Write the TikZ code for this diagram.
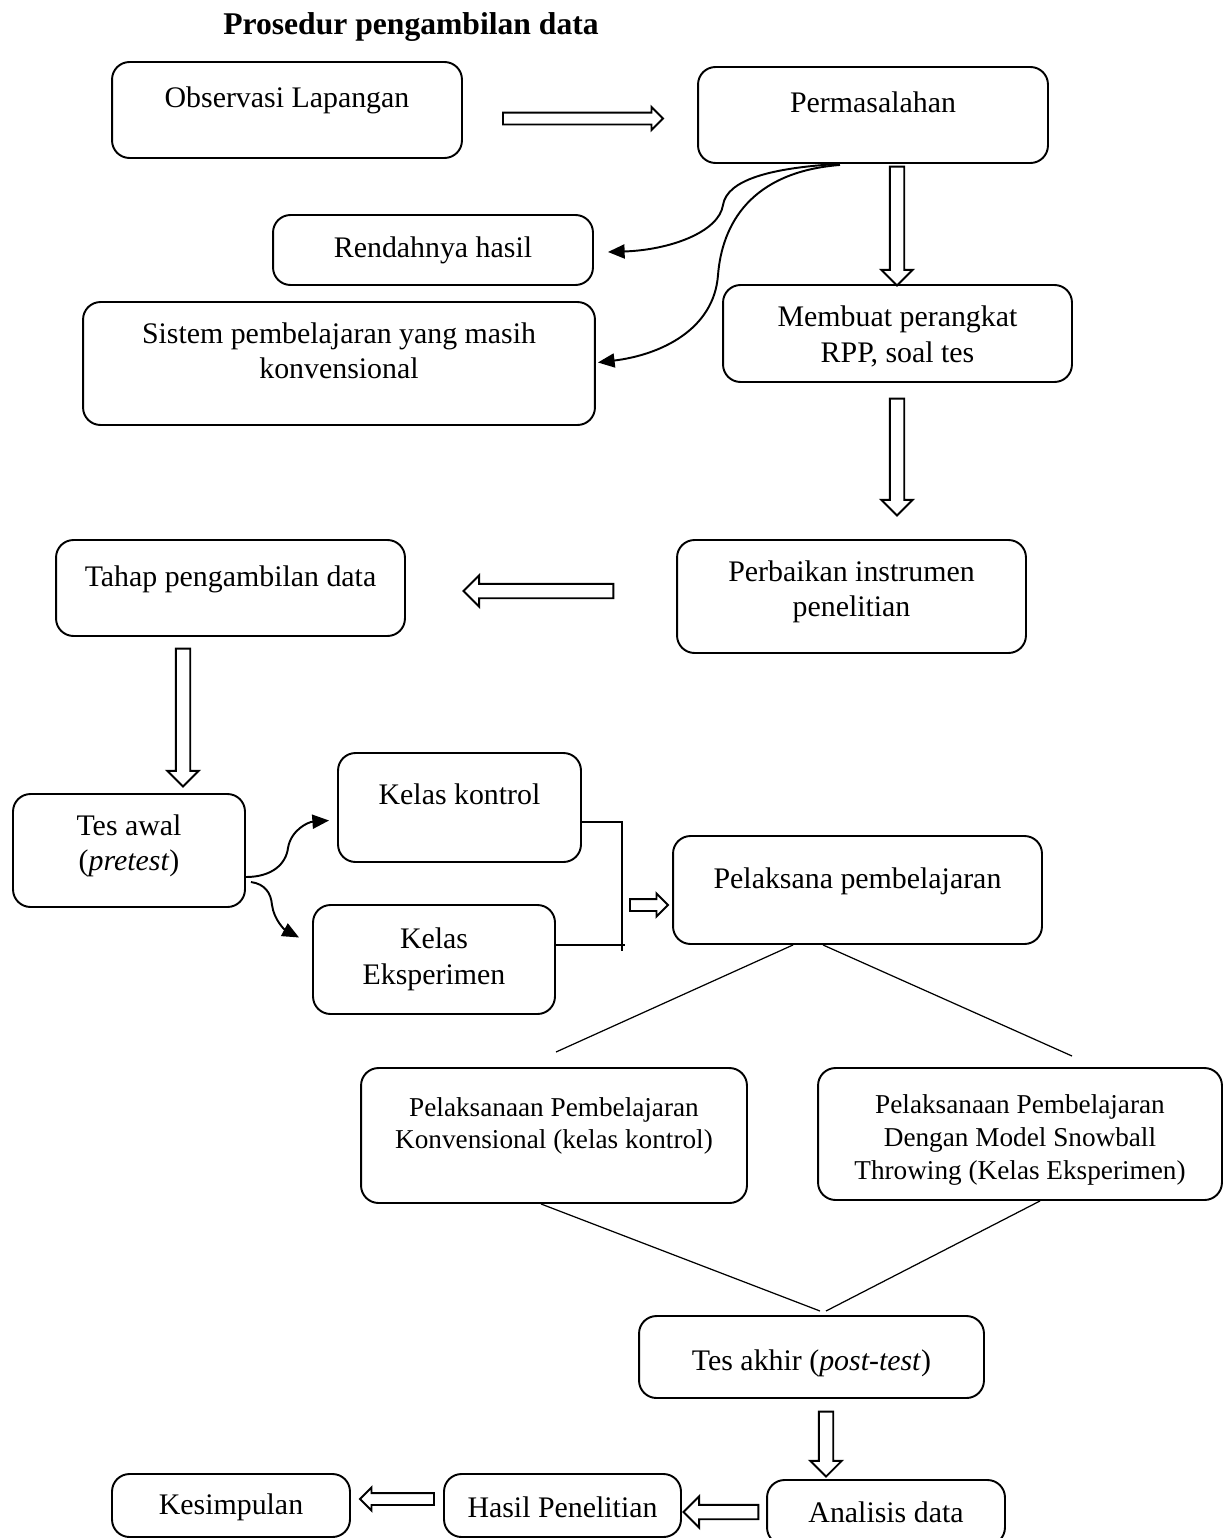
\documentclass[tikz,border=0pt]{standalone}
\usepackage{fontspec}
\setmainfont{Liberation Serif}
\usepackage{tikz}
\usetikzlibrary{arrows.meta}
\usetikzlibrary{shapes.arrows}
\usetikzlibrary{calc}

\newcommand{\padb}[1]{\rule[-#1]{0pt}{#1}}
\newcommand{\padt}[1]{\rule{0pt}{#1}}

\begin{document}
\begin{tikzpicture}[
  x=0.02cm, y=-0.02cm,
  box/.style={draw, rounded corners=0.35cm, line width=1.1pt, align=center, inner sep=0pt, font=\fontsize{17}{20.4}\selectfont},
  smallbox/.style={box, font=\fontsize{15.5}{18.7}\selectfont},
  bigarrow/.style={single arrow, draw, line width=1.1pt, inner xsep=0pt, inner ysep=0.125cm, single arrow head extend=0.17cm, minimum height=#1},
  smallarrow/.style={single arrow, draw, line width=1.1pt, inner xsep=0pt, inner ysep=0.1cm, single arrow head extend=0.11cm, minimum height=#1},
  curve/.style={line width=1.1pt, -{Triangle[length=9.5pt, width=8pt]}},
  plainline/.style={line width=0.7pt}
]
\useasboundingbox (0,0) rectangle (1229,1538);

% title
\node[font=\bfseries\fontsize{18}{21}\selectfont] (title) at (411,27) {Prosedur pengambilan data};

% top row
\node[box, minimum width=7cm, minimum height=1.92cm] (obs) at (287,110) {Observasi Lapangan\padb{15pt}};
\node[box, minimum width=7cm, minimum height=1.92cm] (perm) at (873,115) {Permasalahan\padb{15pt}};

% problems
\node[box, minimum width=6.4cm, minimum height=1.4cm] (rend) at (433,250) {Rendahnya hasil};
\node[box, minimum width=10.24cm, minimum height=2.46cm] (sist) at (339,363.5) {Sistem pembelajaran yang masih\\ konvensional\padb{14.6pt}};

% preparation
\node[box, minimum width=6.98cm, minimum height=1.94cm] (memb) at (897.5,333.5) {\padt{15.5pt}Membuat perangkat\\ RPP, soal tes};
\node[box, minimum width=6.98cm, minimum height=2.26cm] (perb) at (851.5,596.5) {Perbaikan instrumen\\ penelitian\padb{8.9pt}};
\node[box, minimum width=6.98cm, minimum height=1.92cm] (tahap) at (230.5,588) {Tahap pengambilan data\padb{14pt}};

% pretest and classes
\node[box, minimum width=4.64cm, minimum height=2.26cm] (tesaw) at (129,850.5) {Tes awal\\ (\textit{pretest})\padb{8.9pt}};
\node[box, minimum width=4.86cm, minimum height=2.18cm] (kelkon) at (459.5,807.5) {Kelas kontrol\padb{15.7pt}};
\node[box, minimum width=4.84cm, minimum height=2.18cm] (kelek) at (434,959.5) {Kelas\\ Eksperimen};
\node[box, minimum width=7.38cm, minimum height=2.16cm] (pelak) at (857.5,890) {Pelaksana pembelajaran\padb{14pt}};

% learning
\node[smallbox, minimum width=7.72cm, minimum height=2.7cm] (pkonv) at (554,1135.5) {Pelaksanaan Pembelajaran\\ Konvensional (kelas kontrol)\padb{14.2pt}};
\node[smallbox, minimum width=8.08cm, minimum height=2.64cm] (psnow) at (1020,1134) {\padt{17.4pt}Pelaksanaan Pembelajaran\\ Dengan Model Snowball\\ Throwing (Kelas Eksperimen)};

% posttest and results
\node[box, minimum width=6.9cm, minimum height=1.64cm] (tesak) at (811.5,1357) {\padt{19.5pt}Tes akhir (\textit{post-test})};
\node[box, minimum width=4.76cm, minimum height=1.3cm] (analis) at (886,1512.5) {Analisis data};
\node[box, minimum width=4.74cm, minimum height=1.26cm] (hasil) at (562.5,1505.5) {\padt{14pt}Hasil Penelitian};
\node[box, minimum width=4.76cm, minimum height=1.26cm] (kesim) at (231,1505.5) {\padt{14pt}Kesimpulan};

% hollow arrows
\node[smallarrow=3.2cm] (a1) at (580,118.5) {};
\node[bigarrow=2.38cm, rotate=-90] (a2) at (897,222.5) {};
\node[bigarrow=2.34cm, rotate=-90] (a3) at (897,453.5) {};
\node[bigarrow=3cm, rotate=180] (a4) at (542,591) {};
\node[bigarrow=2.76cm, rotate=-90] (a5) at (183,714) {};
\node[smallarrow=0.76cm] (a6) at (646,905) {};
\node[bigarrow=1.3cm, rotate=-90] (a7) at (826,1440.5) {};
\node[bigarrow=1.5cm, rotate=180] (a8) at (724.5,1512) {};
\node[smallarrow=1.48cm, rotate=180] (a9) at (400,1499) {};

% curved arrows
\draw[curve] (perm.south) ++(-35,0) .. controls (770,168) and (727,180) .. (723,205) .. controls (719,232) and (670,250) .. ($(rend.east)+(14,2)$);
\draw[curve] (perm.south) ++(-33,1) .. controls (750,172) and (722,225) .. (718,275) .. controls (714,330) and (660,355) .. ($(sist.east)+(2,-1)$);
\draw[curve] (tesaw.east) ++(0,26.5) .. controls (272,877) and (286,864) .. (288,848) .. controls (291,830) and (308,822) .. ($(kelkon.west)+(-8,13)$);
\draw[curve] (tesaw.east) ++(5,31.5) .. controls (265,884) and (271,893) .. (272,905) .. controls (274,920) and (285,930) .. ($(kelek.west)+(-13,-22)$);

% bracket
\coordinate (brk) at (622,951);
\draw[plainline] (kelkon.east) ++(0,14.5) -| (brk);
\draw[plainline] (kelek.east) ++(0,-14.5) -- ++(69,0);

% plain lines
\coordinate (kv) at (556,1052);
\coordinate (sn) at (1072,1056);
\coordinate (ta1) at (820,1311);
\coordinate (ta2) at (826,1311);
\draw[plainline] (pelak.south) ++(-64.5,0) -- (kv);
\draw[plainline] (pelak.south) ++(-34.5,0) -- (sn);
\draw[plainline] (pkonv.south) ++(-13,0) -- (ta1);
\draw[plainline] (psnow.south) ++(20,0) -- (ta2);

\end{tikzpicture}
\end{document}
